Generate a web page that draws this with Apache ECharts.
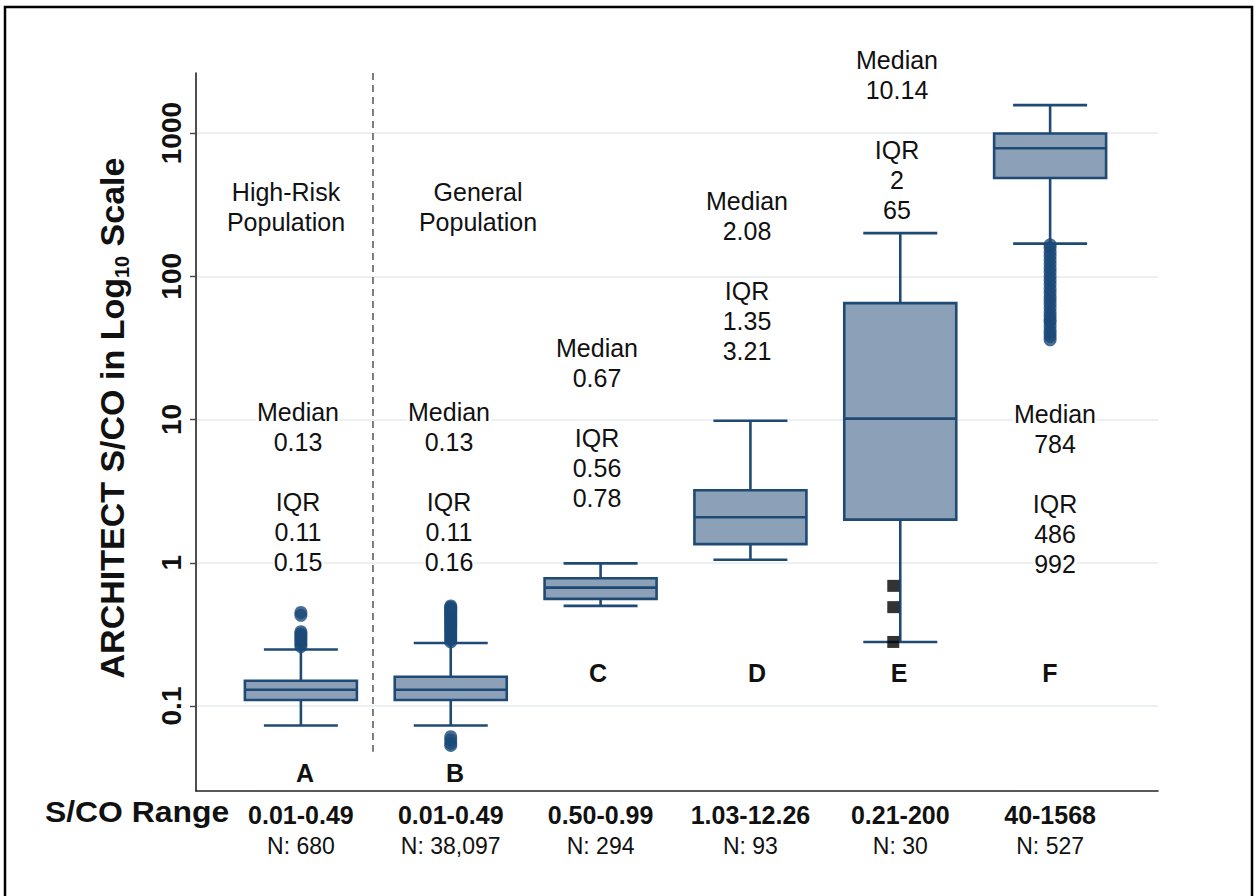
<!DOCTYPE html>
<html>
<head>
<meta charset="utf-8">
<script src="https://cdn.jsdelivr.net/npm/echarts@6/dist/echarts.min.js"></script>
<style>
  html, body { margin: 0; padding: 0; background: #fff; }
  #chart { width: 1257px; height: 896px; }
</style>
</head>
<body>
<div id="chart"></div>
<script>
// Groups, S/CO ranges and sample sizes
const categories = ['A', 'B', 'C', 'D', 'E', 'F'];
const rangeLabels = ['0.01-0.49', '0.01-0.49', '0.50-0.99', '1.03-12.26', '0.21-200', '40-1568'];
const countLabels = ['N: 680', 'N: 38,097', 'N: 294', 'N: 93', 'N: 30', 'N: 527'];

// Box statistics per group (S/CO)
const whiskerLow  = [0.073, 0.073, 0.50, 1.05, 0.28, 169];
const q1          = [0.11, 0.11, 0.56, 1.35, 2, 486];
const median      = [0.13, 0.13, 0.67, 2.08, 10.14, 784];
const q3          = [0.15, 0.16, 0.78, 3.21, 65, 992];
const whiskerHigh = [0.248, 0.275, 0.99, 9.8, 200, 1568];

// Outlying values
const outliersA = [0.26, 0.27, 0.28, 0.29, 0.30, 0.31, 0.32, 0.33, 0.43, 0.45];
const outliersB = [0.053, 0.055, 0.058, 0.061, 0.28, 0.29, 0.30, 0.31, 0.32, 0.33, 0.34, 0.35, 0.36, 0.37,
                   0.38, 0.39, 0.40, 0.41, 0.42, 0.43, 0.44, 0.45, 0.46, 0.47, 0.48, 0.49, 0.50];
const outliersF = [36, 38, 40, 42, 45, 48, 50, 53, 56, 60, 64, 68, 72, 77, 82, 88, 94, 100, 107, 114,
                   122, 130, 139, 148, 158, 166];
// Individually marked samples in group E
const markedE = [0.69, 0.49, 0.28];

// Annotation text per group
const medianText = ['0.13', '0.13', '0.67', '2.08', '10.14', '784'];
const iqrLowText = ['0.11', '0.11', '0.56', '1.35', '2', '486'];
const iqrHighText = ['0.15', '0.16', '0.78', '3.21', '65', '992'];

const yTicks = [0.1, 1, 10, 100, 1000];
const yTickText = ['0.1', '1', '10', '100', '1000'];

const BOX_FILL = '#8ca1b8';
const BOX_LINE = '#1f4a74';
const DOT = '#1c4a78';
const TEXT_FONT = "'Liberation Sans', Arial, sans-serif";

const boxData = categories.map((c, i) => [i + 1, whiskerLow[i], q1[i], median[i], q3[i], whiskerHigh[i]]);

function pts(idx, arr) { return arr.map(v => [idx, v]); }

const chart = echarts.init(document.getElementById('chart'), null, { renderer: 'svg' });

const BOX_W = 112, CAP_W = 74;

function renderBox(params, api) {
  const x = api.value(0);
  const lo = api.coord([x, api.value(1)]);
  const b1 = api.coord([x, api.value(2)]);
  const md = api.coord([x, api.value(3)]);
  const b3 = api.coord([x, api.value(4)]);
  const hi = api.coord([x, api.value(5)]);
  const cx = lo[0];
  const lineStyle = { stroke: BOX_LINE, lineWidth: 2.6, fill: null };
  return {
    type: 'group',
    children: [
      { type: 'line', shape: { x1: cx, y1: b1[1], x2: cx, y2: lo[1] }, style: lineStyle },
      { type: 'line', shape: { x1: cx, y1: b3[1], x2: cx, y2: hi[1] }, style: lineStyle },
      { type: 'line', shape: { x1: cx - CAP_W / 2, y1: lo[1], x2: cx + CAP_W / 2, y2: lo[1] }, style: lineStyle },
      { type: 'line', shape: { x1: cx - CAP_W / 2, y1: hi[1], x2: cx + CAP_W / 2, y2: hi[1] }, style: lineStyle },
      { type: 'rect', shape: { x: cx - BOX_W / 2, y: b3[1], width: BOX_W, height: b1[1] - b3[1] },
        style: { fill: BOX_FILL, stroke: BOX_LINE, lineWidth: 2.6 } },
      { type: 'line', shape: { x1: cx - BOX_W / 2, y1: md[1], x2: cx + BOX_W / 2, y2: md[1] }, style: lineStyle }
    ]
  };
}

// Note blocks beside each box: centre x and y of the first line (pixel layout)
const blockPos = [[298, 412], [449, 412], [597, 348], [747, 201], [897, 60], [1055, 414]];
const letterPos = [[305, 773], [455, 773], [598, 673], [757, 673], [899, 673], [1050, 673]];
const LINE_STEP = 30;

function noteLine(text, x, y) {
  return { type: 'text', x: x, y: y, z: 10, style: {
    text: text, fontSize: 25, fontFamily: TEXT_FONT, lineHeight: 25, align: 'center',
    verticalAlign: 'middle', fill: '#111', backgroundColor: '#fff', padding: [0, 1, 0, 1] } };
}

const graphics = [
  { type: 'rect', shape: { x: 5, y: 7, width: 1247, height: 900 },
    style: { fill: null, stroke: '#000', lineWidth: 2.5 }, z: 100 },
  noteLine('High-Risk', 286, 192), noteLine('Population', 286, 222),
  noteLine('General', 478, 192), noteLine('Population', 478, 222),
  { type: 'text', x: 137, y: 812, z: 10, scaleX: 1.1, style: { text: 'S/CO Range', fontSize: 29, fontWeight: 'bold',
    fontFamily: TEXT_FONT, align: 'center', verticalAlign: 'middle', fill: '#111' } }
];
categories.forEach((c, i) => {
  const bx = blockPos[i][0], by = blockPos[i][1];
  const lines = ['Median', medianText[i], null, 'IQR', iqrLowText[i], iqrHighText[i]];
  lines.forEach((t, k) => { if (t) graphics.push(noteLine(t, bx, by + k * LINE_STEP)); });
  graphics.push({ type: 'text', x: letterPos[i][0], y: letterPos[i][1], z: 10, style: {
    text: c, fontSize: 25, fontWeight: 'bold', fontFamily: TEXT_FONT, align: 'center',
    verticalAlign: 'middle', fill: '#111' } });
});

const option = {
  backgroundColor: '#fff',
  animation: false,
  grid: { left: 196, top: 73, width: 962, height: 718, containLabel: false },
  xAxis: {
    type: 'value', min: 0.3, max: 6.72,
    axisLine: { show: true, onZero: false, lineStyle: { color: '#222', width: 1.6 } },
    axisTick: { show: false },
    splitLine: { show: false },
    axisLabel: {
      customValues: [1, 2, 3, 4, 5, 6],
      margin: 8,
      formatter: v => '{r|' + rangeLabels[Math.round(v) - 1] + '}\n{n|' + countLabels[Math.round(v) - 1] + '}',
      rich: {
        r: { fontSize: 25, fontWeight: 'bold', fontFamily: TEXT_FONT, color: '#111', lineHeight: 31 },
        n: { fontSize: 23, fontFamily: TEXT_FONT, color: '#111', lineHeight: 31 }
      }
    }
  },
  yAxis: {
    type: 'log', logBase: 10, min: 0.0255, max: 2626,
    axisLine: { show: true, lineStyle: { color: '#222', width: 1.6 } },
    axisTick: { show: true, customValues: yTicks, length: 6, lineStyle: { color: '#444', width: 1.4 } },
    splitLine: { show: true, lineStyle: { color: '#e6ebef', width: 1.6 } },
    axisLabel: { show: false, customValues: yTicks },
    name: '{t|ARCHITECT S/CO in Log}{s|10}{t| Scale}',
    nameLocation: 'middle', nameRotate: 90, nameGap: 64,
    nameTextStyle: {
      padding: [0, 0, 0, 28],
      rich: {
        t: { fontSize: 34, fontWeight: 'bold', fontFamily: TEXT_FONT, color: '#111', lineHeight: 40 },
        s: { fontSize: 20, fontWeight: 'bold', fontFamily: TEXT_FONT, color: '#111', lineHeight: 22, verticalAlign: 'bottom' }
      }
    }
  },
  series: [
    {
      type: 'custom', name: 'box', renderItem: renderBox, data: boxData,
      encode: { x: 0, y: [1, 2, 3, 4, 5] }, z: 2,
      markLine: {
        silent: true, symbol: 'none', label: { show: false },
        lineStyle: { color: '#555', type: [7, 5], width: 1.5 },
        data: [[{ coord: [1.48, 2626] }, { coord: [1.48, 0.048] }]]
      }
    },
    {
      type: 'scatter', name: 'outliers', symbol: 'circle', symbolSize: 13, z: 3,
      itemStyle: { color: DOT },
      data: [].concat(pts(1, outliersA), pts(2, outliersB), pts(6, outliersF))
    },
    {
      type: 'scatter', name: 'marked', symbol: 'rect', symbolSize: 12, symbolOffset: [-7, 0], z: 4,
      itemStyle: { color: '#000' },
      data: pts(5, markedE)
    }
  ],
  graphic: graphics
};

chart.setOption(option);

// Rotated tick labels for the log axis, placed through the axis scale
const tickLabels = yTicks.map((v, i) => ({
  type: 'text', x: 171, y: chart.convertToPixel({ yAxisIndex: 0 }, v), rotation: Math.PI / 2, z: 10,
  style: { text: yTickText[i], font: 'bold 28px ' + TEXT_FONT, fontSize: 28, fontWeight: 'bold',
           fontFamily: TEXT_FONT, fill: '#111', align: 'center', verticalAlign: 'middle' }
}));
chart.setOption({ graphic: graphics.concat(tickLabels) });
</script>
</body>
</html>
